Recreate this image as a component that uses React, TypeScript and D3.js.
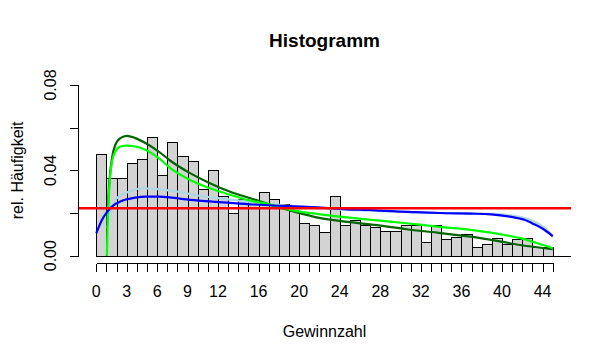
import React from "react";
import * as d3 from "d3";

const binStarts = d3.range(0, 45);
const binValues = [
  0.0476, 0.0364, 0.0364, 0.0434, 0.0454, 0.0556, 0.0377, 0.0532, 0.0467, 0.0443,
  0.0312, 0.0401, 0.0279, 0.0199, 0.0265, 0.0254, 0.0298, 0.0265, 0.0241, 0.021,
  0.0152, 0.0143, 0.011, 0.0279, 0.0143, 0.0166, 0.0143, 0.0133, 0.0117, 0.0117,
  0.0143, 0.0143, 0.0063, 0.0143, 0.0077, 0.0086, 0.01, 0.0042, 0.0054, 0.0085,
  0.0054, 0.0077, 0.0085, 0.0042, 0.0042,
];

const xTicks = d3.range(0, 46);
const xTickLabels = ["0", "3", "6", "9", "12", "16", "20", "24", "28", "32", "36", "40", "44"];
const yTicks = [0, 0.02, 0.04, 0.06, 0.08];
const yTickLabels = ["0.00", "0.04", "0.08"];

const uniformLevel = 1 / 45;

const curveBlue: [number, number][] = [
  [0, 0.0105], [0.57, 0.0168], [1.06, 0.0204], [1.55, 0.023], [2.54, 0.0257],
  [3.85, 0.0272], [4.84, 0.0277], [6.16, 0.0277], [7.47, 0.0272], [8.6, 0.0265],
  [10.1, 0.0258], [12.5, 0.025], [15.5, 0.024], [18.1, 0.0234], [20.3, 0.023],
  [22.5, 0.0224], [24.7, 0.0217], [27, 0.0214], [28, 0.0211], [31.5, 0.0204],
  [34.6, 0.0199], [36.9, 0.0197], [38.9, 0.0194], [40.8, 0.0183], [42.2, 0.0168],
  [43.1, 0.0149], [44.1, 0.0124], [45, 0.0092],
];
const curveLightBlue: [number, number][] = [
  [1.1, 0.013], [1.3, 0.018], [1.55, 0.0222], [1.88, 0.0261], [2.54, 0.0285],
  [3.5, 0.0305], [4.5, 0.0316], [6.0, 0.0312], [8.0, 0.0300], [10, 0.0282],
  [13, 0.0264], [15, 0.0253], [18, 0.0238], [21, 0.0225], [24, 0.0216],
  [27, 0.021], [31, 0.0204], [34.6, 0.0199], [37, 0.0198], [39, 0.0196],
  [41, 0.0188], [42.5, 0.0173], [43.5, 0.0152], [44.3, 0.0127], [45, 0.0085],
];
const curveGreen: [number, number][] = [
  [1.05, 0], [1.1, 0.012], [1.2, 0.025], [1.38, 0.0379], [1.55, 0.0441],
  [1.88, 0.0488], [2.37, 0.0512], [3.03, 0.0516], [3.85, 0.0512], [4.84, 0.0496],
  [6.16, 0.0457], [7.3, 0.041], [9.25, 0.0355], [11.2, 0.0316], [13.2, 0.0285],
  [15.2, 0.0258], [17.1, 0.024], [19.1, 0.0215], [22.1, 0.0194], [25, 0.0178],
  [28, 0.0164], [30.6, 0.0152], [33.6, 0.0136], [36.9, 0.0121], [39.9, 0.01],
  [41.8, 0.0082], [43.5, 0.0058], [45, 0.0035],
];
const curveDarkGreen: [number, number][] = [
  [1.08, 0.016], [1.3, 0.035], [1.55, 0.0457], [1.88, 0.052], [2.37, 0.0551],
  [3.03, 0.0562], [3.85, 0.0551], [4.84, 0.0528], [6.16, 0.0488], [7.3, 0.0445],
  [9.25, 0.0387], [11.2, 0.034], [13.2, 0.03], [15.2, 0.0269], [17.1, 0.024],
  [19.1, 0.0212], [22.1, 0.0176], [25, 0.0157], [28, 0.0141], [30.6, 0.0124],
  [33.6, 0.0108], [36.9, 0.0089], [39.9, 0.0066], [41.8, 0.005], [45, 0.0031],
];

const W = 611;
const H = 361;
const plotLeft = 78;
const plotRight = 571;
const plotTop = 78.2;
const plotBottom = 262.5;

export default function App() {
  const x = d3.scaleLinear().domain([-1.8, 46.8]).range([plotLeft, plotRight]);
  const y = d3.scaleLinear().domain([-0.0032, 0.0832]).range([plotBottom, plotTop]);
  const line = d3
    .line<[number, number]>()
    .x((d) => x(d[0]))
    .y((d) => y(d[1]))
    .curve(d3.curveMonotoneX);

  const font = "'Liberation Sans', Arial, sans-serif";
  const y0 = Math.round(y(0)) + 0.5;
  const xAxisY = 263.5;

  return (
    <svg
      width={W}
      height={H}
      style={{ position: "absolute", left: 0, top: 0, background: "#fff" }}
      fontFamily={font}
    >
      <rect width={W} height={H} fill="#fff" />
      {/* bars */}
      <g shapeRendering="crispEdges">
        {binStarts.map((b, i) => {
          const x0 = Math.round(x(b)) + 0.5;
          const x1 = Math.round(x(b + 1)) + 0.5;
          const yt = Math.round(y(binValues[i])) + 0.5;
          return (
            <rect
              key={i}
              x={x0}
              y={yt}
              width={x1 - x0}
              height={y0 - yt}
              fill="#D3D3D3"
              stroke="#000"
              strokeWidth={1}
            />
          );
        })}
        <line x1={Math.round(x(0)) + 0.5} x2={plotRight} y1={y0} y2={y0} stroke="#000" strokeWidth={1} />
      </g>
      {/* curves */}
      <path d={line(curveLightBlue) || ""} fill="none" stroke="#ADD8E6" strokeWidth={2.2} />
      <path d={line(curveDarkGreen) || ""} fill="none" stroke="#006400" strokeWidth={2.2} />
      <path d={line(curveGreen) || ""} fill="none" stroke="#00FF00" strokeWidth={2.2} />
      <path d={line(curveBlue) || ""} fill="none" stroke="#0000FF" strokeWidth={2.2} />
      <line
        x1={plotLeft}
        x2={plotRight}
        y1={y(uniformLevel)}
        y2={y(uniformLevel)}
        stroke="#FF0000"
        strokeWidth={2.5}
      />
      {/* x axis */}
      <g shapeRendering="crispEdges" stroke="#000" strokeWidth={1}>
        <line x1={Math.round(x(0)) + 0.5} x2={Math.round(x(45)) + 0.5} y1={xAxisY} y2={xAxisY} />
        {xTicks.map((t) => (
          <line key={t} x1={Math.round(x(t)) + 0.5} x2={Math.round(x(t)) + 0.5} y1={xAxisY} y2={xAxisY + 8} />
        ))}
      </g>
      {xTickLabels.map((l) => (
        <text key={l} x={x(+l)} y={297} textAnchor="middle" fontSize={16} fill="#000">
          {l}
        </text>
      ))}
      {/* y axis */}
      <g shapeRendering="crispEdges" stroke="#000" strokeWidth={1}>
        <line x1={plotLeft + 0.5} x2={plotLeft + 0.5} y1={Math.round(y(0.08)) + 0.5} y2={Math.round(y(0)) + 0.5} />
        {yTicks.map((t) => (
          <line key={t} x1={plotLeft - 8} x2={plotLeft + 0.5} y1={Math.round(y(t)) + 0.5} y2={Math.round(y(t)) + 0.5} />
        ))}
      </g>
      {yTickLabels.map((l) => (
        <text
          key={l}
          transform={`translate(55.5,${y(+l)}) rotate(-90)`}
          textAnchor="middle"
          fontSize={16}
          fill="#000"
        >
          {l}
        </text>
      ))}
      {/* titles */}
      <text x={(plotLeft + plotRight) / 2} y={46.5} textAnchor="middle" fontSize={19} fontWeight="bold" fill="#000">
        Histogramm
      </text>
      <text x={(plotLeft + plotRight) / 2} y={337} textAnchor="middle" fontSize={16} fill="#000">
        Gewinnzahl
      </text>
      <text
        transform={`translate(23,${(plotTop + plotBottom) / 2}) rotate(-90)`}
        textAnchor="middle"
        fontSize={16}
        fill="#000"
      >
        rel. Häufigkeit
      </text>
    </svg>
  );
}
